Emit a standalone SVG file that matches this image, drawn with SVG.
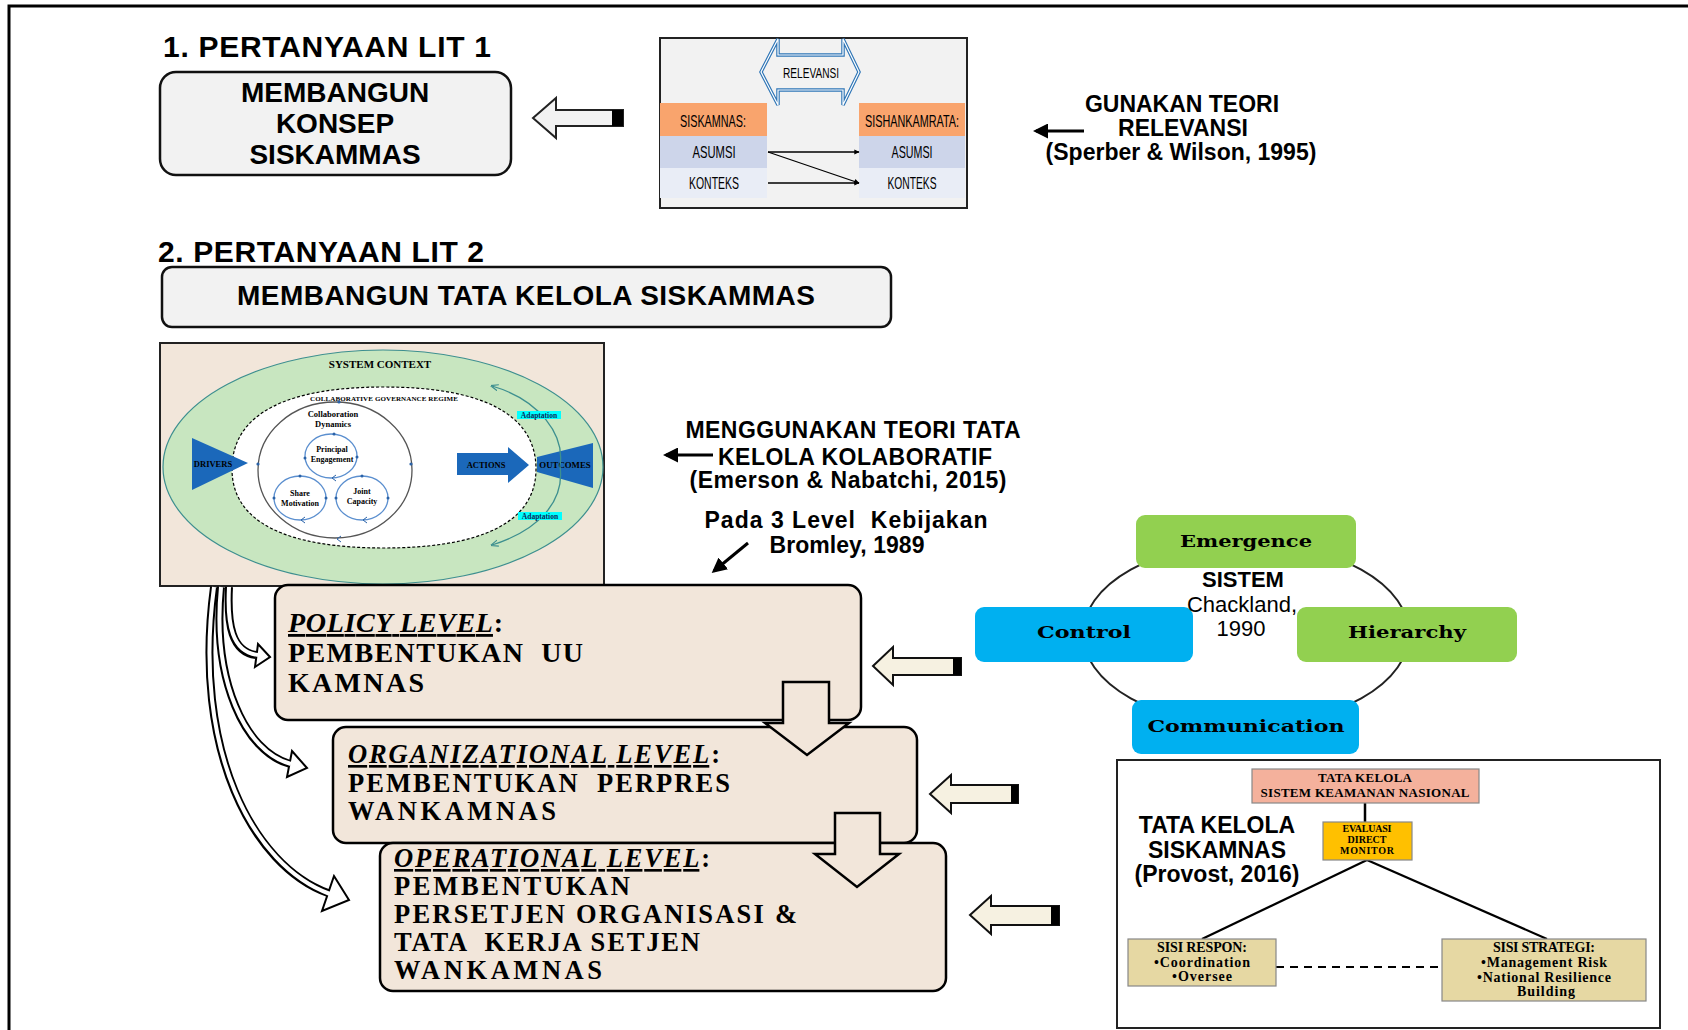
<svg xmlns="http://www.w3.org/2000/svg" width="1688" height="1030" viewBox="0 0 1688 1030">
<defs>
<style>
text{font-family:"Liberation Sans",Arial,sans-serif;fill:#000;}
.hb{font-weight:bold;}
.sf{font-family:"Liberation Serif","Times New Roman",serif;font-weight:bold;}
.ds{font-family:"DejaVu Serif","Liberation Serif",serif;font-weight:bold;}
.lvl{fill:#f2e6da;stroke:#000;stroke-width:2.5;}
.blk{fill:#f6f1e1;stroke:#111;stroke-width:2;}
.q{fill:#f2f2f2;stroke:#111;stroke-width:2.5;}
.thin{stroke:#000;stroke-width:1.3;fill:none;}
.ln{stroke:#000;stroke-width:3;fill:none;}
.dot{fill:#2a62a8;}
.cir{fill:none;stroke:#5b8fcf;stroke-width:1.3;}
.ad{fill:#0b2a5a;font-size:7.5px;}
.lt{font-size:28px;}
.lt2{font-size:26.5px;}
</style>
<marker id="ah" viewBox="0 0 10 10" refX="8" refY="5" markerWidth="5" markerHeight="5" orient="auto-start-reverse"><path d="M0,0 L10,5 L0,10 z" fill="#000"/></marker>
<marker id="ahs" viewBox="0 0 10 10" refX="9" refY="5" markerWidth="4" markerHeight="4" orient="auto-start-reverse"><path d="M0,0 L10,5 L0,10 z" fill="#000"/></marker>
<marker id="aht" viewBox="0 0 10 10" refX="8" refY="5" markerWidth="6" markerHeight="6" orient="auto-start-reverse"><path d="M0,1 L10,5 L0,9" fill="none" stroke="#3d8f8f" stroke-width="1.5"/></marker>
</defs>

<rect x="0" y="0" width="1688" height="1030" fill="#fff"/>
<path d="M9,1030 V6 H1688" fill="none" stroke="#000" stroke-width="3"/>

<g id="title1">
<text x="163" y="57" font-size="30" class="hb" textLength="328">1. PERTANYAAN LIT 1</text>
</g>
<g id="konsep">
<rect x="160" y="72" width="351" height="103" rx="16" class="q"/>
<text x="335" y="102" font-size="28" class="hb" text-anchor="middle">MEMBANGUN</text>
<text x="335" y="133" font-size="28" class="hb" text-anchor="middle">KONSEP</text>
<text x="335" y="164" font-size="28" class="hb" text-anchor="middle">SISKAMMAS</text>
</g>

<g id="relevansi">
<rect x="660" y="38" width="307" height="170" fill="#f2f2f2" stroke="#222" stroke-width="2"/>
<path d="M761,72 L778,39 L778,55 L843,55 L843,39 L859,72 L843,105 L843,90 L778,90 L778,105 Z" fill="none" stroke="#2e75b6" stroke-width="3.5"/>
<path d="M761,72 L778,39 L778,55 L843,55 L843,39 L859,72 L843,105 L843,90 L778,90 L778,105 Z" fill="none" stroke="#fff" stroke-width="1.2"/>
<text x="811" y="78" font-size="15" text-anchor="middle" textLength="56" lengthAdjust="spacingAndGlyphs" fill="#222">RELEVANSI</text>
<rect x="660" y="103" width="107" height="33" fill="#f9a46d"/>
<rect x="660" y="136" width="107" height="32" fill="#cdd5ea"/>
<rect x="660" y="168" width="107" height="30" fill="#e9edf6"/>
<rect x="859" y="103" width="106" height="33" fill="#f9a46d"/>
<rect x="859" y="136" width="106" height="32" fill="#cdd5ea"/>
<rect x="859" y="168" width="106" height="30" fill="#e9edf6"/>
<text x="713" y="127" font-size="17" text-anchor="middle" textLength="66" lengthAdjust="spacingAndGlyphs" fill="#222">SISKAMNAS:</text>
<text x="912" y="127" font-size="17" text-anchor="middle" textLength="94" lengthAdjust="spacingAndGlyphs" fill="#222">SISHANKAMRATA:</text>
<text x="714" y="158" font-size="17" text-anchor="middle" textLength="43" lengthAdjust="spacingAndGlyphs" fill="#222">ASUMSI</text>
<text x="912" y="158" font-size="17" text-anchor="middle" textLength="41" lengthAdjust="spacingAndGlyphs" fill="#222">ASUMSI</text>
<text x="714" y="189" font-size="17" text-anchor="middle" textLength="50" lengthAdjust="spacingAndGlyphs" fill="#222">KONTEKS</text>
<text x="912" y="189" font-size="17" text-anchor="middle" textLength="49" lengthAdjust="spacingAndGlyphs" fill="#222">KONTEKS</text>
</g>

<g id="teori-relevansi">
<text x="1182" y="112" font-size="23" class="hb" text-anchor="middle">GUNAKAN TEORI</text>
<text x="1183" y="136" font-size="23" class="hb" text-anchor="middle">RELEVANSI</text>
<text x="1181" y="160" font-size="23" class="hb" text-anchor="middle">(Sperber &amp; Wilson, 1995)</text>
</g>

<g id="title2">
<text x="158" y="262" font-size="30" class="hb" textLength="326">2. PERTANYAAN LIT 2</text>
</g>
<g id="tatakelola">
<rect x="162" y="267" width="729" height="60" rx="10" class="q"/>
<text x="526" y="305" font-size="28" class="hb" text-anchor="middle" textLength="578">MEMBANGUN TATA KELOLA SISKAMMAS</text>
</g>

<g id="collab">
<rect x="160" y="343" width="444" height="243" fill="#f2e6da" stroke="#222" stroke-width="2"/>
<ellipse cx="383" cy="467" rx="220" ry="117" fill="#c8e6c0" stroke="#3d8f8f" stroke-width="1.2"/>
<path d="M232,469 C232,412 290,387 384,387 C478,387 536,412 536,469 C536,524 478,548 384,548 C290,548 232,524 232,469 Z" fill="#fff" stroke="#000" stroke-width="1.2" stroke-dasharray="3 2"/>
<text x="380" y="368" font-size="11" class="sf" text-anchor="middle">SYSTEM CONTEXT</text>
<text x="384" y="401" font-size="7" class="sf" text-anchor="middle" textLength="148">COLLABORATIVE GOVERNANCE REGIME</text>
<ellipse cx="335" cy="470" rx="77" ry="68" fill="none" stroke="#555" stroke-width="1.3"/>
<text x="333" y="417" font-size="8.5" class="sf" text-anchor="middle" fill="#333">Collaboration</text>
<text x="333" y="427" font-size="8.5" class="sf" text-anchor="middle" fill="#333">Dynamics</text>
<ellipse cx="331" cy="456" rx="26" ry="22" class="cir"/>
<ellipse cx="300" cy="498" rx="26" ry="22" class="cir"/>
<ellipse cx="362" cy="498" rx="26" ry="22" class="cir"/>
<text x="332" y="452" font-size="8" class="sf" text-anchor="middle" fill="#333">Principal</text>
<text x="332" y="462" font-size="8" class="sf" text-anchor="middle" fill="#333">Engagement</text>
<text x="300" y="496" font-size="8" class="sf" text-anchor="middle" fill="#333">Share</text>
<text x="300" y="506" font-size="8" class="sf" text-anchor="middle" fill="#333">Motivation</text>
<text x="362" y="494" font-size="8" class="sf" text-anchor="middle" fill="#333">Joint</text>
<text x="362" y="504" font-size="8" class="sf" text-anchor="middle" fill="#333">Capacity</text>
<circle cx="339" cy="402" r="1.6" class="dot"/><circle cx="258" cy="464" r="1.6" class="dot"/><circle cx="411" cy="464" r="1.6" class="dot"/>
<circle cx="334" cy="434" r="1.5" class="dot"/><circle cx="305" cy="458" r="1.5" class="dot"/><circle cx="357" cy="457" r="1.5" class="dot"/>
<circle cx="300" cy="476" r="1.5" class="dot"/><circle cx="274" cy="498" r="1.5" class="dot"/><circle cx="326" cy="498" r="1.5" class="dot"/>
<circle cx="362" cy="476" r="1.5" class="dot"/><circle cx="336" cy="498" r="1.5" class="dot"/><circle cx="388" cy="498" r="1.5" class="dot"/>
<path d="M341,536 l-4,3 l4,3 M336,475 l-4,3 l4,3 M305,517 l-4,3 l4,3 M367,517 l-4,3 l4,3" fill="none" stroke="#2a62a8" stroke-width="1"/>
<polygon points="192,438 192,490 248,463" fill="#1b68ba"/>
<text x="213" y="467" font-size="8.5" class="sf" fill="#fff" text-anchor="middle">DRIVERS</text>
<polygon points="457,453 508,453 508,447 529,465 508,483 508,475 457,475" fill="#1b68ba"/>
<text x="486" y="468" font-size="8.5" class="sf" fill="#fff" text-anchor="middle">ACTIONS</text>
<polygon points="537,457 593,443 593,488 537,472" fill="#1b68ba"/>
<text x="565" y="468" font-size="8.8" class="sf" fill="#fff" text-anchor="middle">OUTCOMES</text>
<path d="M492,386 C540,400 565,435 560,466 C565,500 540,530 492,545" fill="none" stroke="#3d8f8f" stroke-width="1.3" marker-start="url(#aht)" marker-end="url(#aht)"/>
<rect x="517" y="411" width="44" height="8" fill="#00ffff"/>
<text x="539" y="418" class="sf ad" text-anchor="middle">Adaptation</text>
<rect x="518" y="512" width="44" height="8" fill="#00ffff"/>
<text x="540" y="519" class="sf ad" text-anchor="middle">Adaptation</text>
</g>

<g id="teori-kolaboratif">
<text x="853" y="438" font-size="23" class="hb" text-anchor="middle" textLength="335">MENGGUNAKAN TEORI TATA</text>
<text x="855" y="465" font-size="23" class="hb" text-anchor="middle" textLength="274">KELOLA KOLABORATIF</text>
<text x="848" y="488" font-size="23" class="hb" text-anchor="middle" textLength="317">(Emerson &amp; Nabatchi, 2015)</text>
<text x="846" y="528" font-size="23" class="hb" text-anchor="middle" textLength="283" xml:space="preserve">Pada 3 Level  Kebijakan</text>
<text x="847" y="553" font-size="23" class="hb" text-anchor="middle" textLength="155">Bromley, 1989</text>
</g>

<g id="sistem">
<ellipse cx="1246" cy="634" rx="163" ry="91" fill="none" stroke="#222" stroke-width="2"/>
<rect x="1136" y="515" width="220" height="53" rx="9" fill="#92d050"/>
<rect x="975" y="607" width="218" height="55" rx="9" fill="#00b0f0"/>
<rect x="1297" y="607" width="220" height="55" rx="9" fill="#92d050"/>
<rect x="1132" y="700" width="227" height="54" rx="9" fill="#00b0f0"/>
<text x="1246" y="547" font-size="17" class="ds" text-anchor="middle" textLength="132" lengthAdjust="spacingAndGlyphs">Emergence</text>
<text x="1084" y="638" font-size="17" class="ds" text-anchor="middle" textLength="94" lengthAdjust="spacingAndGlyphs">Control</text>
<text x="1407" y="638" font-size="17" class="ds" text-anchor="middle" textLength="118" lengthAdjust="spacingAndGlyphs">Hierarchy</text>
<text x="1246" y="732" font-size="17" class="ds" text-anchor="middle" textLength="197" lengthAdjust="spacingAndGlyphs">Communication</text>
<text x="1243" y="587" font-size="22" class="hb" text-anchor="middle">SISTEM</text>
<text x="1242" y="612" font-size="22" text-anchor="middle">Chackland,</text>
<text x="1241" y="636" font-size="22" text-anchor="middle">1990</text>
</g>

<g id="policy-level">
<rect x="275" y="585" width="586" height="135" rx="13" class="lvl"/>
<text x="288" y="632" class="sf lt" textLength="215"><tspan font-style="italic" text-decoration="underline">POLICY LEVEL</tspan>:</text>
<text x="288" y="662" class="sf lt" textLength="295" xml:space="preserve">PEMBENTUKAN  UU</text>
<text x="288" y="692" class="sf lt" textLength="136">KAMNAS</text>
</g>
<g id="organizational-level">
<rect x="333" y="727" width="584" height="116" rx="13" class="lvl"/>
<text x="348" y="763" class="sf lt2" textLength="372"><tspan font-style="italic" text-decoration="underline">ORGANIZATIONAL LEVEL</tspan>:</text>
<text x="348" y="792" class="sf lt2" textLength="382" xml:space="preserve">PEMBENTUKAN  PERPRES</text>
<text x="348" y="820" class="sf lt2" textLength="208">WANKAMNAS</text>
</g>
<g id="operational-level">
<rect x="380" y="843" width="566" height="148" rx="13" class="lvl"/>
<text x="394" y="867" class="sf lt2" textLength="316"><tspan font-style="italic" text-decoration="underline">OPERATIONAL LEVEL</tspan>:</text>
<text x="394" y="895" class="sf lt2" textLength="236">PEMBENTUKAN</text>
<text x="394" y="923" class="sf lt2" textLength="403">PERSETJEN ORGANISASI &amp;</text>
<text x="394" y="951" class="sf lt2" textLength="306" xml:space="preserve">TATA  KERJA SETJEN</text>
<text x="394" y="979" class="sf lt2" textLength="208">WANKAMNAS</text>
</g>

<g id="provost">
<rect x="1117" y="760" width="543" height="268" fill="#fff" stroke="#222" stroke-width="2"/>
<line x1="1365" y1="803" x2="1365" y2="822" stroke="#000" stroke-width="2.5"/>
<line x1="1367" y1="860" x2="1202" y2="939" stroke="#000" stroke-width="2.2"/>
<line x1="1367" y1="860" x2="1547" y2="939" stroke="#000" stroke-width="2.2"/>
<line x1="1276" y1="967" x2="1442" y2="967" stroke="#000" stroke-width="2" stroke-dasharray="8 6"/>
<rect x="1252" y="769" width="227" height="34" fill="#f4b19c" stroke="#888" stroke-width="1.2"/>
<text x="1365" y="782" font-size="13" class="sf" text-anchor="middle" textLength="94">TATA KELOLA</text>
<text x="1365" y="797" font-size="13" class="sf" text-anchor="middle" textLength="209">SISTEM KEAMANAN NASIONAL</text>
<rect x="1323" y="822" width="89" height="38" fill="#ffc000" stroke="#888" stroke-width="1.2"/>
<text x="1367" y="832" font-size="10" class="sf" text-anchor="middle" textLength="49">EVALUASI</text>
<text x="1367" y="843" font-size="10" class="sf" text-anchor="middle" textLength="39">DIRECT</text>
<text x="1367" y="854" font-size="10" class="sf" text-anchor="middle" textLength="54">MONITOR</text>
<text x="1217" y="833" font-size="23" class="hb" text-anchor="middle">TATA KELOLA</text>
<text x="1217" y="858" font-size="23" class="hb" text-anchor="middle">SISKAMNAS</text>
<text x="1217" y="882" font-size="23" class="hb" text-anchor="middle">(Provost, 2016)</text>
<rect x="1128" y="939" width="148" height="47" fill="#e6d8a3" stroke="#888" stroke-width="1.2"/>
<text x="1202" y="952" font-size="14" class="sf" text-anchor="middle" textLength="90">SISI RESPON:</text>
<text x="1202" y="967" font-size="14" class="sf" text-anchor="middle" textLength="96">•Coordination</text>
<text x="1202" y="981" font-size="14" class="sf" text-anchor="middle" textLength="60">•Oversee</text>
<rect x="1442" y="939" width="204" height="62" fill="#e6d8a3" stroke="#888" stroke-width="1.2"/>
<text x="1544" y="952" font-size="14" class="sf" text-anchor="middle" textLength="102">SISI STRATEGI:</text>
<text x="1544" y="967" font-size="14" class="sf" text-anchor="middle" textLength="126">•Management Risk</text>
<text x="1544" y="982" font-size="14" class="sf" text-anchor="middle" textLength="134">•National Resilience</text>
<text x="1546" y="996" font-size="14" class="sf" text-anchor="middle" textLength="58">Building</text>
</g>

<g id="connectors">
<polygon points="533,118 556,98 556,110 623,110 623,126 556,126 556,138" fill="#f2f2f2" stroke="#222" stroke-width="2"/>
<rect x="612" y="110" width="11" height="16" fill="#000"/>
<polygon points="873,666 893,647 893,658 961,658 961,675 893,675 893,685" class="blk"/>
<rect x="953" y="658" width="8" height="17" fill="#000"/>
<polygon points="930,794 951,775 951,785 1018,785 1018,803 951,803 951,813" class="blk"/>
<rect x="1011" y="785" width="7" height="18" fill="#000"/>
<polygon points="970,915 991,896 991,906 1059,906 1059,925 991,925 991,934" class="blk"/>
<rect x="1051" y="906" width="8" height="19" fill="#000"/>
<polygon points="783,682 829,682 829,723 849,723 807,755 765,723 783,723" fill="#f2e6da" stroke="#000" stroke-width="2.5"/>
<polygon points="835,813 880,813 880,854 899,854 857,887 815,854 835,854" fill="#f2e6da" stroke="#000" stroke-width="2.5"/>
<line x1="768" y1="152" x2="859" y2="152" class="thin" marker-end="url(#ahs)"/>
<line x1="768" y1="152" x2="859" y2="183" class="thin" marker-end="url(#ahs)"/>
<line x1="768" y1="183" x2="859" y2="183" class="thin" marker-end="url(#ahs)"/>
<line x1="1084" y1="131" x2="1036" y2="131" class="ln" marker-end="url(#ah)"/>
<line x1="713" y1="455" x2="666" y2="455" class="ln" marker-end="url(#ah)"/>
<line x1="748" y1="543" x2="714" y2="571" class="ln" marker-end="url(#ah)"/>
<path d="M214,587 C192,750 253,866 328,893" fill="none" stroke="#000" stroke-width="8"/>
<path d="M221,587 C212,680 245,752 290,764" fill="none" stroke="#000" stroke-width="8"/>
<path d="M229,587 C227,625 232,652 256,655" fill="none" stroke="#000" stroke-width="8"/>
<polygon points="349,900 334,876 322,911" fill="#fff" stroke="#000" stroke-width="2"/>
<polygon points="307,768 292,751 287,777" fill="#fff" stroke="#000" stroke-width="2"/>
<polygon points="270,657 258,644 255,667" fill="#fff" stroke="#000" stroke-width="2"/>
<path d="M214,587 C192,750 253,866 330,894" fill="none" stroke="#fff" stroke-width="4"/>
<path d="M221,587 C212,680 245,752 291,764" fill="none" stroke="#fff" stroke-width="4"/>
<path d="M229,587 C227,625 232,652 258,655" fill="none" stroke="#fff" stroke-width="4"/>
</g>
</svg>
